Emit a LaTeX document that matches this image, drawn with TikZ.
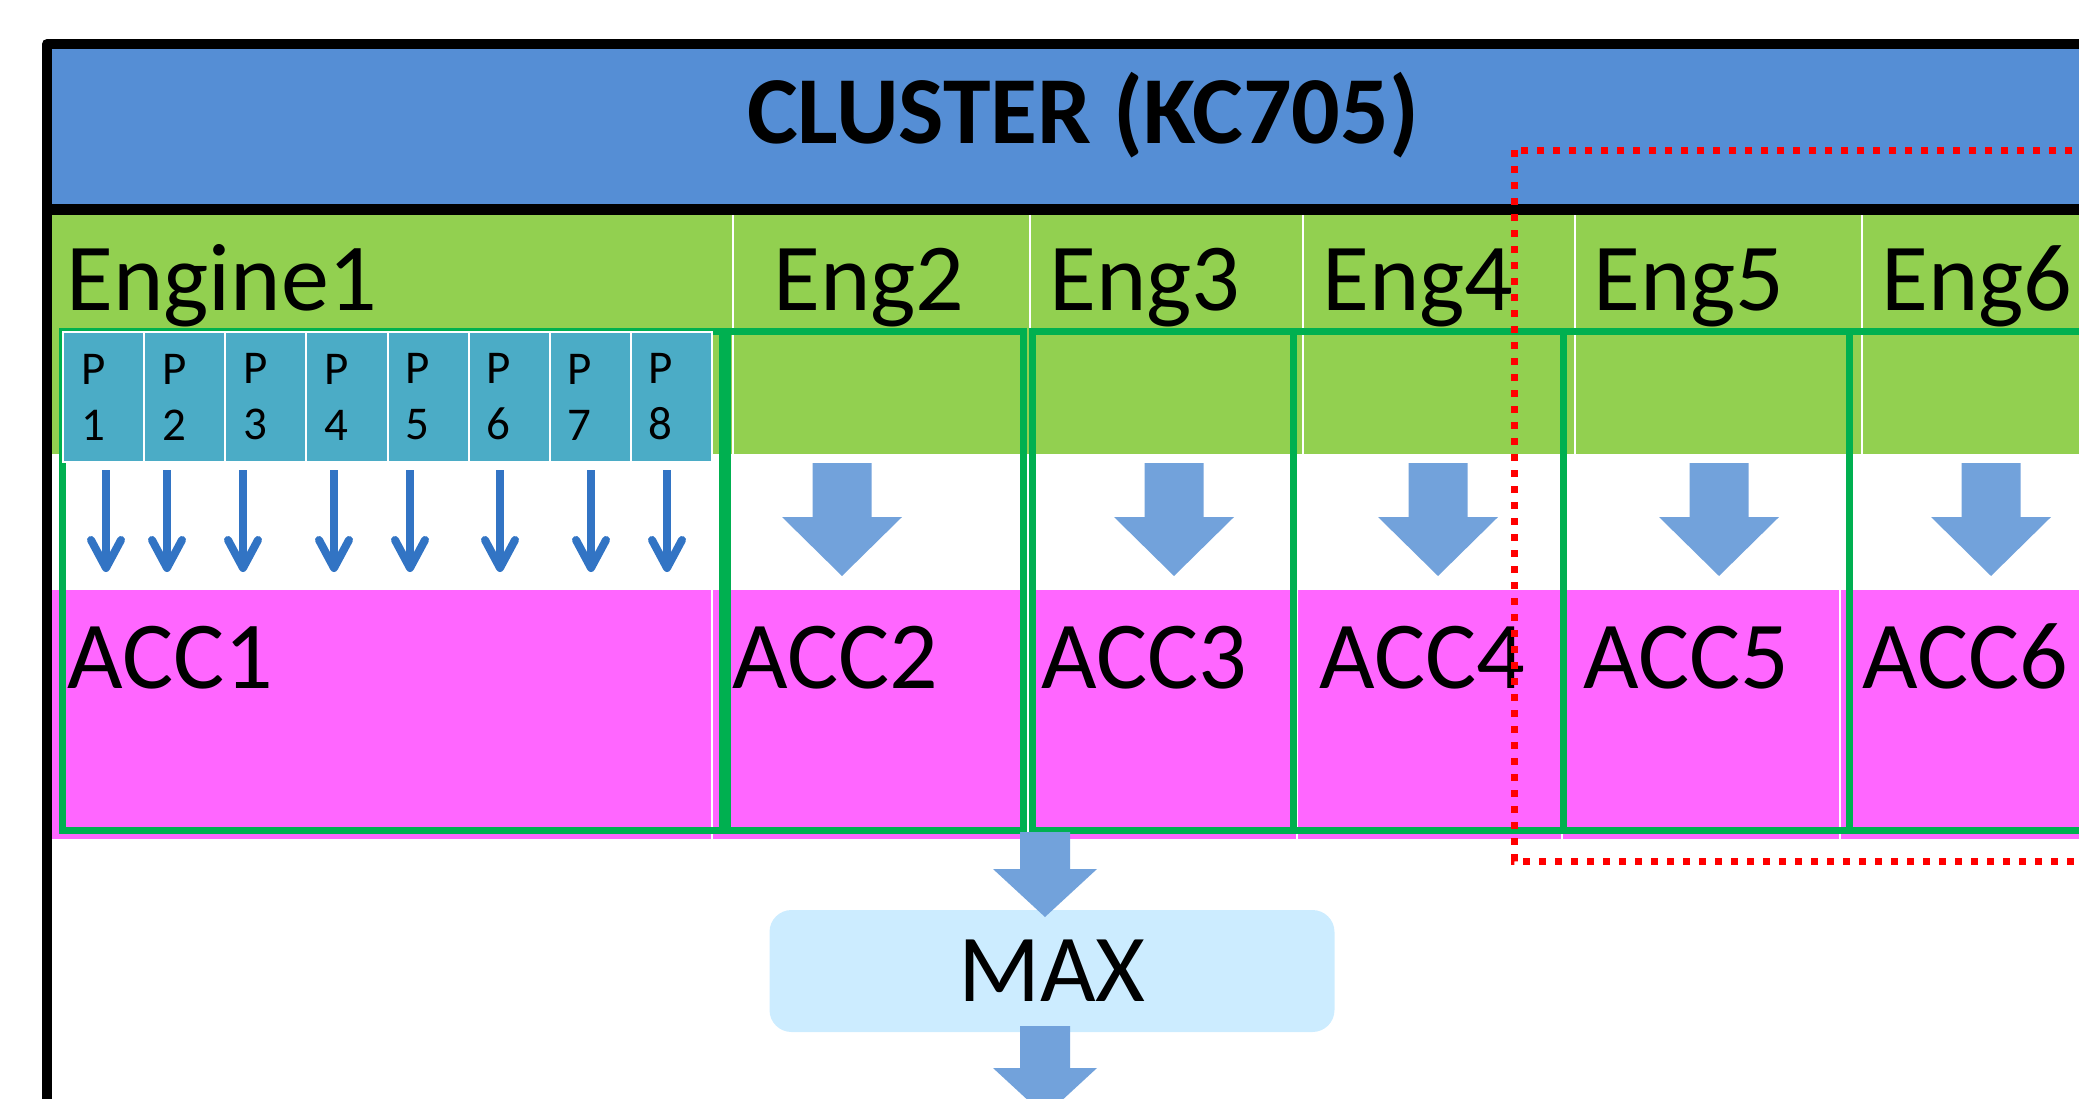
\documentclass[tikz,border=0pt]{standalone}
\usepackage{fontspec}
\setmainfont{Carlito}
\usetikzlibrary{arrows.meta}

\definecolor{headerblue}{RGB}{85,142,213}
\definecolor{bandgreen}{RGB}{146,208,80}
\definecolor{accmagenta}{RGB}{255,102,255}
\definecolor{frgreen}{RGB}{0,176,80}
\definecolor{pteal}{RGB}{75,172,198}
\definecolor{thinblue}{RGB}{50,116,196}
\definecolor{blockblue}{RGB}{114,162,219}
\definecolor{maxfill}{RGB}{204,236,255}

% block arrow pointing down: #1 top-centre, #2 shaft half-width,
% #3 head half-width, #4 shaft length, #5 head length
\newcommand{\blockdown}[5]{%
  \fill[blockblue] (#1) ++(-#2,0) -- ++(2*#2,0) -- ++(0,#4) -- ++(#3-#2,0)
    -- ++(-#3,#5) -- ++(-#3,-#5) -- ++(#3-#2,0) -- cycle;}

\begin{document}
\begin{tikzpicture}[x=1pt,y=-1pt,
  bigtxt/.style={inner sep=0pt,font=\fontsize{96}{115}\selectfont},
  engcell/.style={fill=bandgreen,draw=white,line width=2pt},
  acccell/.style={fill=accmagenta,draw=white,line width=2pt},
  accframe/.style={draw=frgreen,line width=7pt},
  pbox/.style={fill=pteal,draw=white,line width=2pt,minimum width=81.125pt,
    minimum height=130pt,text width=45pt,inner xsep=18pt,align=left,
    font=\fontsize{47}{56}\selectfont},
  parrow/.style={draw=thinblue,line width=8pt,
    -{Straight Barb[length=28pt,width=30pt,round]}},
  maxbox/.style={fill=maxfill,rounded corners=22pt,minimum width=565pt,
    minimum height=122pt,inner sep=0pt,font=\fontsize{96}{115}\selectfont},
  selbox/.style={draw=red,line width=7pt,dash pattern=on 7pt off 9pt}]
\useasboundingbox (0,0) rectangle (2079,1098);
\clip (0,0) rectangle (2079,1098);

% header
\fill[headerblue] (47,44) rectangle (2110,209);

% engine band
\foreach \a/\b in {47/733,733/1030,1030/1303,1303/1575,1575/1862,1862/2120}
  \path[engcell] (\a,209) rectangle (\b,455);

% accumulator band
\foreach \a/\b in {47/712,712/1028,1028/1297,1297/1562,1562/1840,1840/2120}
  \path[acccell] (\a,589) rectangle (\b,840);

% engine/accumulator groupings
\draw[accframe] (62,331) rectangle (722,830);
\draw[accframe] (727,331) rectangle (1023,830);
\draw[accframe] (1032,331) rectangle (1293,830);
\draw[accframe] (1293,331) rectangle (1563,830);
\draw[accframe] (1563,331) rectangle (1849,830);
\draw[accframe] (1849,331) rectangle (2120,830);

% processing elements of Engine1
\foreach \k in {1,...,8}
  \node[pbox] (p\k) at ({63+81.125*(\k-0.5)},397) {P\\ \k};

% PE outputs into ACC1
\foreach \k/\x in {1/106,2/167,3/243,4/334,5/410,6/500,7/591,8/667}
  \draw[parrow] (\x,470) -- (\x,572);

% engine outputs into ACC2..ACC6
\coordinate (t2) at (842,463);
\coordinate (t3) at (1174,463);
\coordinate (t4) at (1438,463);
\coordinate (t5) at (1719,463);
\coordinate (t6) at (1991,463);
\foreach \t in {t2,t3,t4,t5,t6}
  \blockdown{\t}{29.5}{60}{54}{59};

% reduction
\node[maxbox] (max) at (1052,971) {MAX};
\coordinate (tin) at (1045,832);
\coordinate (tout) at (1045,1026);
\blockdown{tin}{25}{52}{37}{48}
\blockdown{tout}{25}{52}{42}{48}

% labels
\node[bigtxt,font=\fontsize{96}{115}\selectfont\bfseries,anchor=base] (title) at (1083,143) {CLUSTER (KC705)};
\node[bigtxt,anchor=base west] (e1) at (66,310) {Engine1};
\node[bigtxt,anchor=base west] (e2) at (773,310) {Eng2};
\node[bigtxt,anchor=base west] (e3) at (1049,310) {Eng3};
\node[bigtxt,anchor=base west] (e4) at (1322,310) {Eng4};
\node[bigtxt,anchor=base west] (e5) at (1593,310) {Eng5};
\node[bigtxt,anchor=base west] (e6) at (1881,310) {Eng6};
\node[bigtxt,anchor=base west] (a1) at (67,688) {ACC1};
\node[bigtxt,anchor=base west] (a2) at (732,688) {ACC2};
\node[bigtxt,anchor=base west] (a3) at (1041,688) {ACC3};
\node[bigtxt,anchor=base west] (a4) at (1319,688) {ACC4};
\node[bigtxt,anchor=base west] (a5) at (1583,688) {ACC5};
\node[bigtxt,anchor=base west] (a6) at (1862,688) {ACC6};

% cluster frame
\draw[line width=10pt,line join=round] (47,1130) -- (47,44) -- (2120,44);
\draw[line width=11pt] (42,209.5) -- (2120,209.5);

% selection
\draw[selbox] (1514,150) rectangle (2130,861);
\end{tikzpicture}
\end{document}
